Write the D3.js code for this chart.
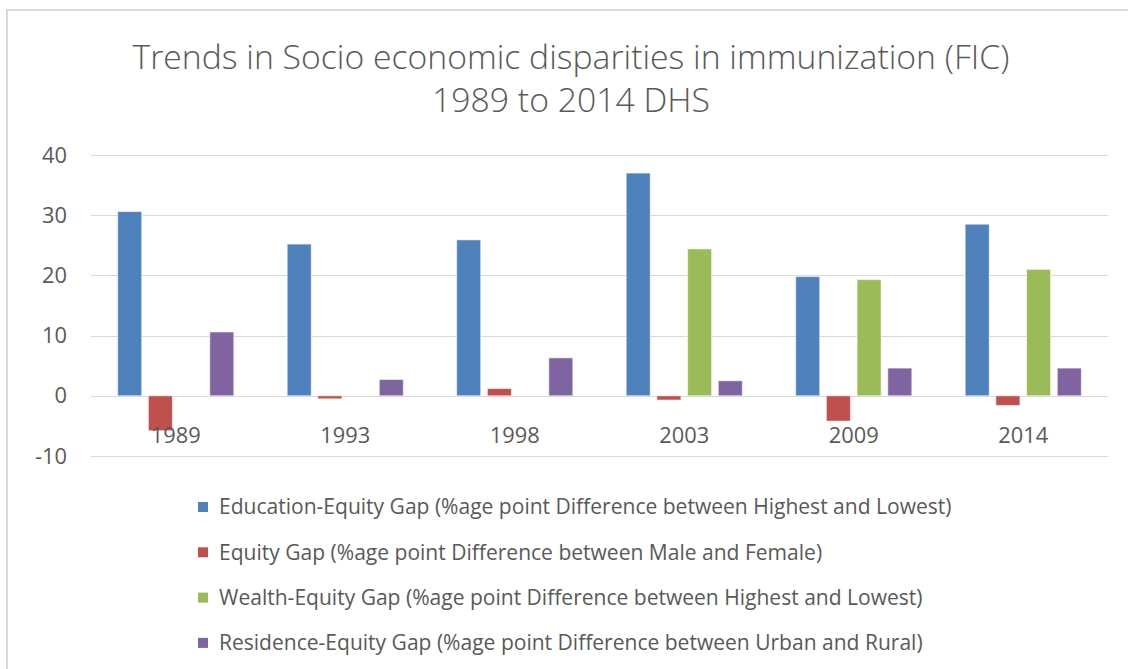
<!DOCTYPE html>
<html>
<head>
<meta charset="utf-8">
<script src="https://cdn.jsdelivr.net/npm/d3@7"></script>
<style>
  body { margin: 0; background: #fff; }
  svg { display: block; font-family: 'Open Sans', 'Noto Sans', sans-serif; }
</style>
</head>
<body>
<div id="vis"></div>
<script>
// data
const years = ['1989', '1993', '1998', '2003', '2009', '2014'];
const seriesNames = [
  'Education-Equity Gap (%age point Difference between Highest and Lowest)',
  'Equity Gap (%age point Difference between Male and Female)',
  'Wealth-Equity Gap (%age point Difference between Highest and Lowest)',
  'Residence-Equity Gap (%age point Difference between Urban and Rural)'
];
const educationGap = [30.6, 25.2, 25.9, 37.0, 19.8, 28.5];
const genderGap = [-5.8, -0.5, 1.2, -0.7, -4.2, -1.6];
const wealthGap = [null, null, null, 24.4, 19.3, 21.0];
const residenceGap = [10.6, 2.7, 6.3, 2.5, 4.6, 4.6];
const yTicks = [-10, 0, 10, 20, 30, 40];
const colors = ['#4F81BD', '#C0504D', '#9BBB59', '#8064A2'];

const W = 1128, H = 669;
const textColor = '#595959';

const svg = d3.select('#vis').append('svg')
  .attr('width', W)
  .attr('height', H);

// chart frame (right/bottom edges fall outside the picture)
svg.append('rect')
  .attr('x', 7).attr('y', 10)
  .attr('width', W + 20).attr('height', H + 20)
  .attr('fill', '#fff')
  .attr('stroke', '#d9d9d9')
  .attr('stroke-width', 2);

// set font size so that a text gets a wanted width
function fitSize(str, targetWidth, weight) {
  const t = svg.append('text').attr('font-size', 20).attr('font-weight', weight || 400).text(str);
  const w = t.node().getComputedTextLength();
  t.remove();
  return 20 * targetWidth / w;
}

// title
const titleSize = fitSize('Trends in Socio economic disparities in immunization (FIC)', 877, 300);
svg.append('g').selectAll('text')
  .data(['Trends in Socio economic disparities in immunization (FIC)', '1989 to 2014 DHS'])
  .join('text')
  .attr('x', 571)
  .attr('y', (d, i) => 57 + i * 43)
  .attr('dy', '0.35em')
  .attr('text-anchor', 'middle')
  .attr('font-size', titleSize)
  .attr('font-weight', 300)
  .attr('fill', textColor)
  .text(d => d);

// scales
const x = d3.scaleBand().domain(years).range([91, 1108]).padding(0);
const xInner = d3.scaleBand().domain(d3.range(4))
  .range([0, x.bandwidth()])
  .paddingInner(0.218)
  .paddingOuter(0.869);
const y = d3.scaleLinear().domain([-10, 40]).range([456, 155]);

// gridlines
svg.append('g').selectAll('line')
  .data(yTicks)
  .join('line')
  .attr('x1', 91).attr('x2', 1108)
  .attr('y1', d => Math.round(y(d)) + 0.5)
  .attr('y2', d => Math.round(y(d)) + 0.5)
  .attr('stroke', '#d9d9d9')
  .attr('stroke-width', 1);

const tickSize = fitSize('1989', 50);

// y axis labels (plain hyphen for negatives, like Excel)
const yAxis = d3.axisLeft(y).tickValues(yTicks).tickFormat(d => String(d))
  .tickSize(0).tickPadding(0);
svg.append('g')
  .attr('transform', 'translate(67,0)')
  .call(yAxis)
  .call(g => g.select('.domain').remove())
  .call(g => g.selectAll('text')
    .attr('font-size', tickSize)
    .attr('font-family', "'Open Sans', 'Noto Sans', sans-serif")
    .attr('fill', textColor));

// bars
const allSeries = [educationGap, genderGap, wealthGap, residenceGap];
const rows = [];
allSeries.forEach((vals, si) => {
  vals.forEach((v, yi) => {
    if (v !== null) rows.push({year: years[yi], s: si, v: v});
  });
});

svg.append('g').selectAll('rect')
  .data(rows)
  .join('rect')
  .attr('x', d => x(d.year) + xInner(d.s))
  .attr('width', xInner.bandwidth())
  .attr('y', d => y(Math.max(0, d.v)))
  .attr('height', d => Math.abs(y(d.v) - y(0)))
  .attr('fill', d => colors[d.s])
  .attr('stroke', '#ffffff')
  .attr('stroke-opacity', 0.55)
  .attr('stroke-width', 1);

// x axis labels (placed a bit below the zero line, as in the reference)
const xAxis = d3.axisBottom(x).tickSize(0).tickPadding(0);
svg.append('g')
  .attr('transform', 'translate(0,427)')
  .call(xAxis)
  .call(g => g.select('.domain').remove())
  .call(g => g.selectAll('text')
    .attr('font-size', tickSize)
    .attr('font-family', "'Open Sans', 'Noto Sans', sans-serif")
    .attr('fill', textColor));

// legend
const legendSize = fitSize(seriesNames[0], 733);
const legend = svg.append('g').selectAll('g')
  .data(seriesNames)
  .join('g')
  .attr('transform', (d, i) => `translate(198,${507 + i * 45.3})`);

legend.append('rect')
  .attr('x', 0).attr('y', -5)
  .attr('width', 10).attr('height', 10)
  .attr('fill', (d, i) => colors[i]);

legend.append('text')
  .attr('x', 21)
  .attr('dy', '0.35em')
  .attr('font-size', legendSize)
  .attr('fill', textColor)
  .text(d => d);
</script>
</body>
</html>
